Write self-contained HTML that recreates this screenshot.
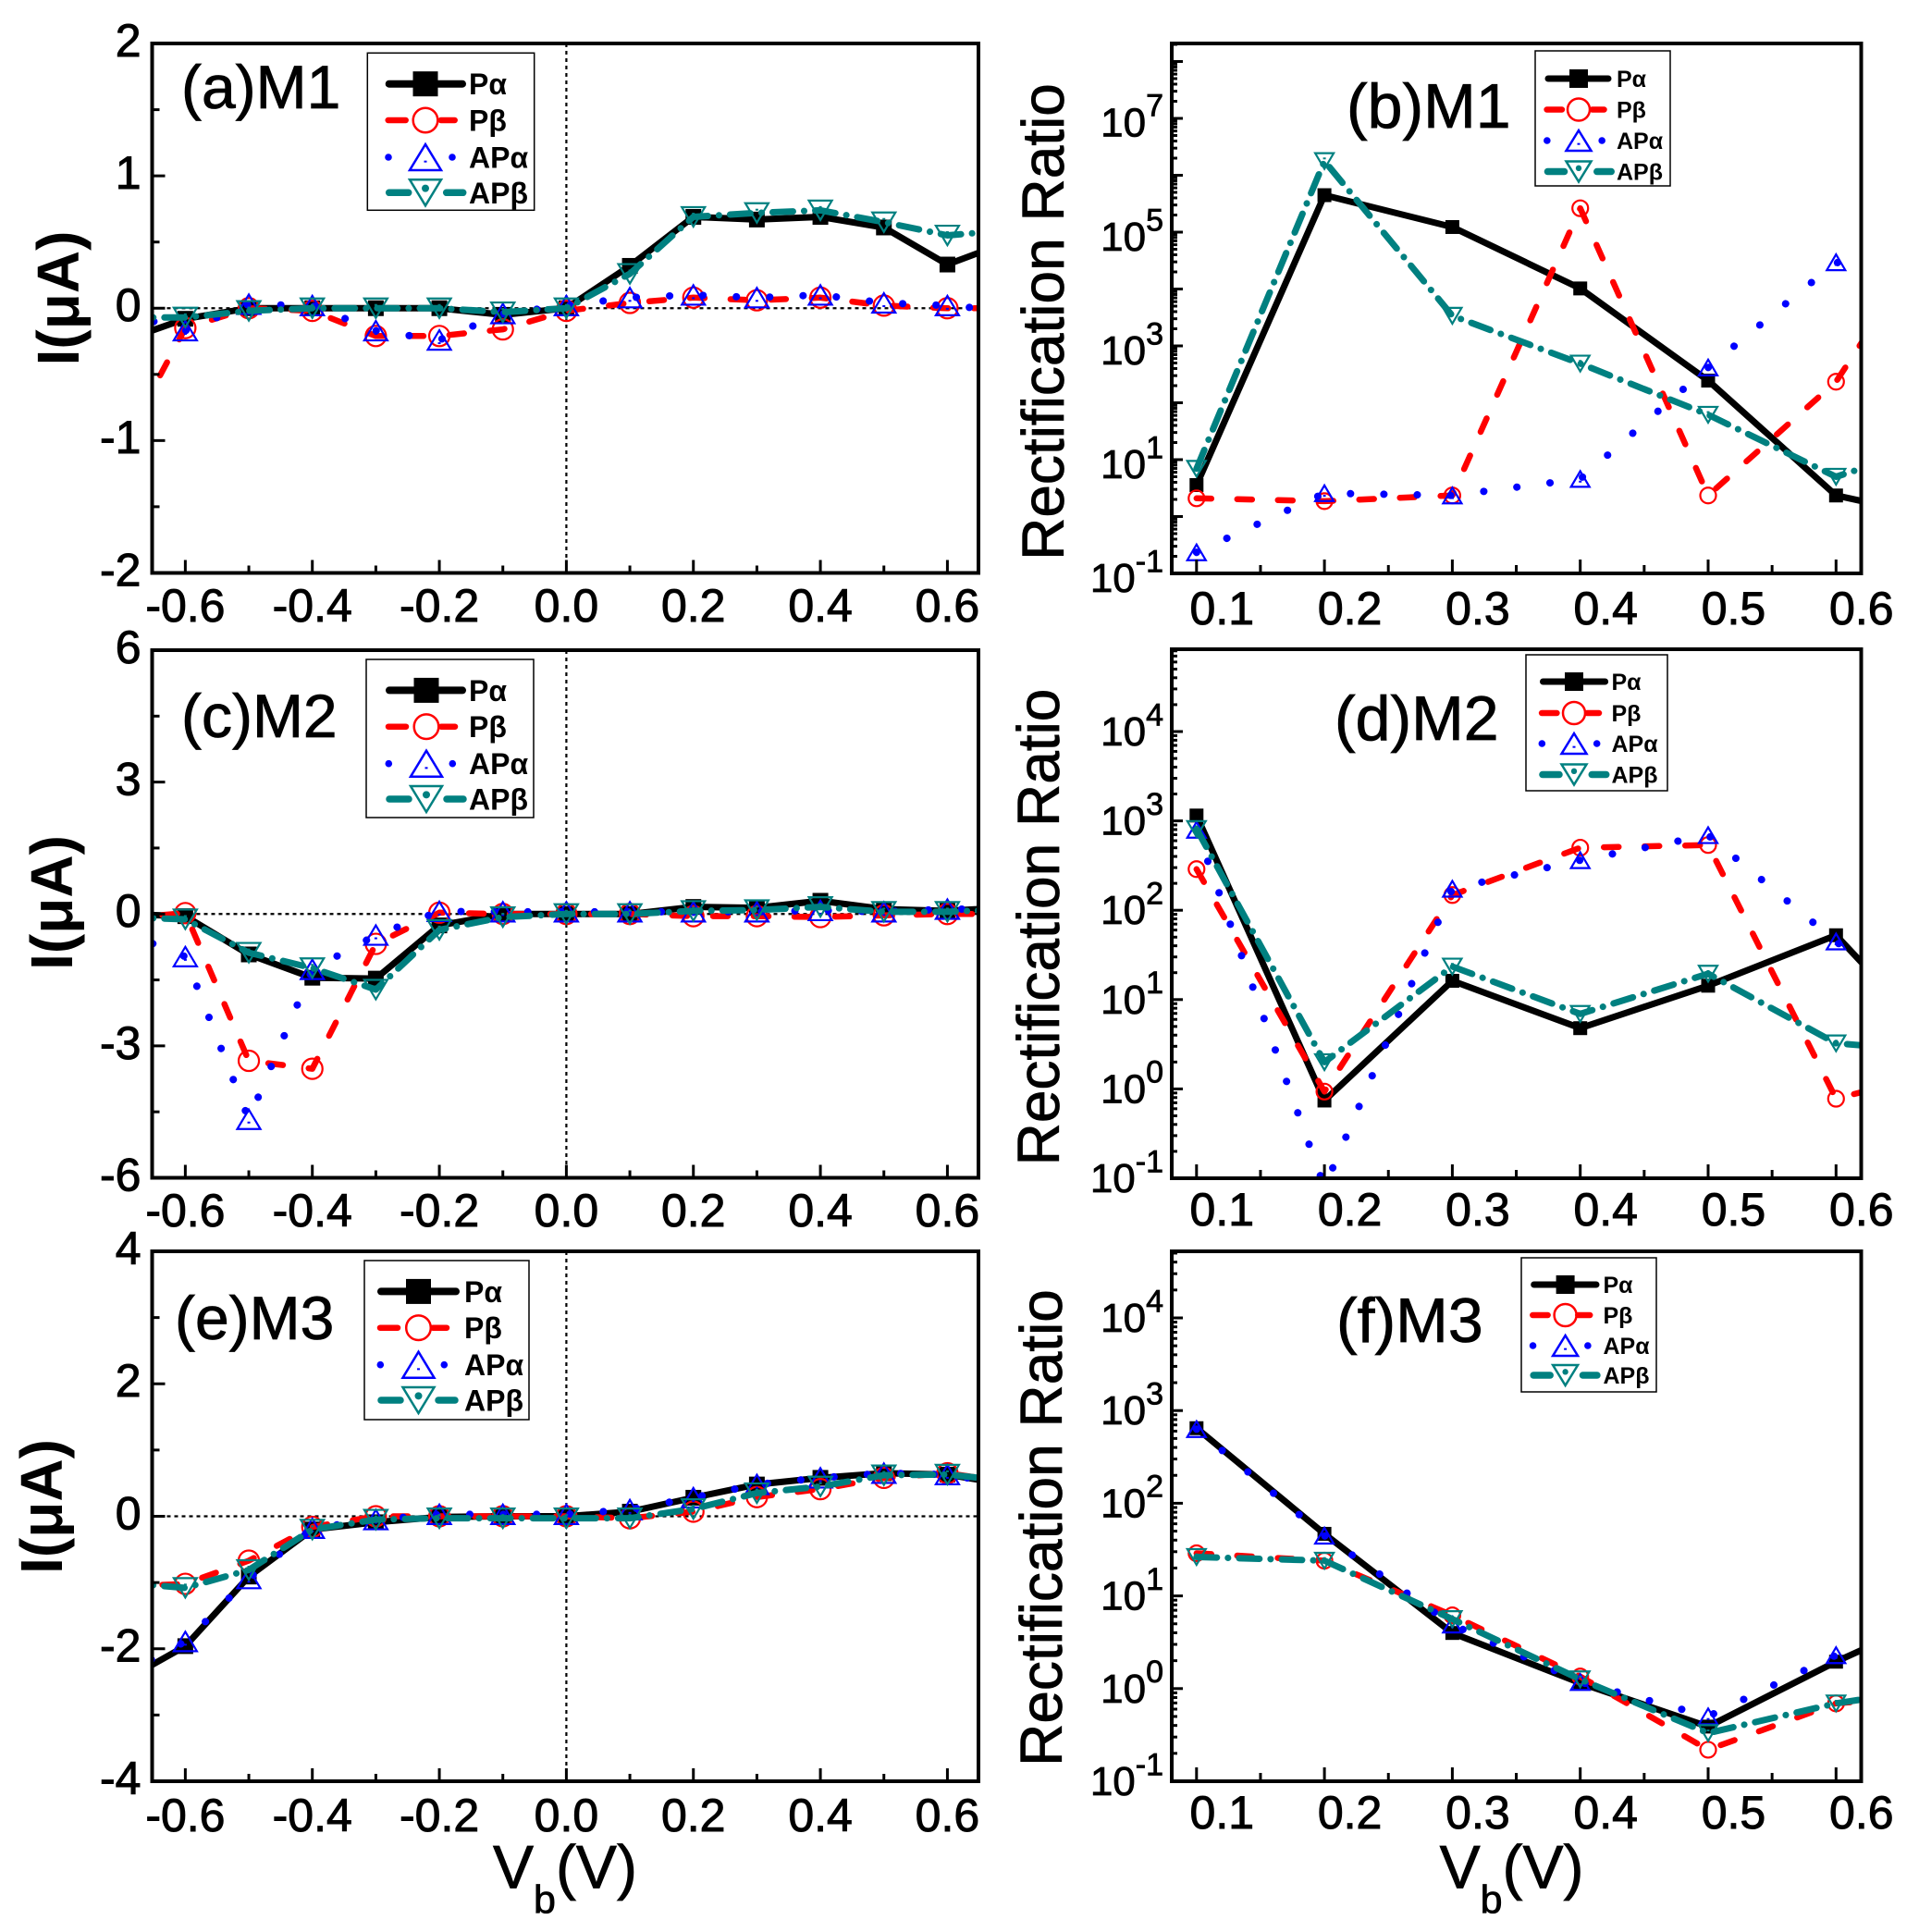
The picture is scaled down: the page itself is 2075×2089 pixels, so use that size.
<!DOCTYPE html>
<html><head><meta charset="utf-8">
<style>
html,body{margin:0;padding:0;background:#fff;}
svg{display:block;}
text{font-family:"Liberation Sans",Arial,sans-serif;fill:#000;}
.tk{font-size:50px;text-anchor:middle;stroke:#000;stroke-width:1px;}
.yl{font-size:50px;text-anchor:end;stroke:#000;stroke-width:1px;}
.lg{font-size:44px;text-anchor:end;stroke:#000;stroke-width:0.8px;}
.pl{font-size:66px;stroke:#000;stroke-width:0.8px;}
.plr{font-size:68px;stroke:#000;stroke-width:0.8px;}
.yt{font-size:64px;font-weight:bold;text-anchor:middle;}
.rr{font-size:64px;text-anchor:middle;stroke:#000;stroke-width:0.8px;}
.xt{font-size:66px;stroke:#000;stroke-width:0.8px;}
.le{font-size:32px;font-weight:bold;}
.ler{font-size:25px;font-weight:bold;}
</style></head>
<body>
<svg id="s" xmlns="http://www.w3.org/2000/svg" width="2075" height="2089" viewBox="0 0 2075 2089">
<rect width="2075" height="2089" fill="#fff"/>
<defs id="defs"></defs>
<g id="plots"></g>

<!-- left x tick labels -->
<text class="tk" x="200.4" y="672">-0.6</text><text class="tk" x="337.7" y="672">-0.4</text><text class="tk" x="475.1" y="672">-0.2</text><text class="tk" x="612.4" y="672">0.0</text><text class="tk" x="749.7" y="672">0.2</text><text class="tk" x="887.1" y="672">0.4</text><text class="tk" x="1024.4" y="672">0.6</text>
<text class="tk" x="200.4" y="1326">-0.6</text><text class="tk" x="337.7" y="1326">-0.4</text><text class="tk" x="475.1" y="1326">-0.2</text><text class="tk" x="612.4" y="1326">0.0</text><text class="tk" x="749.7" y="1326">0.2</text><text class="tk" x="887.1" y="1326">0.4</text><text class="tk" x="1024.4" y="1326">0.6</text>
<text class="tk" x="200.4" y="1980">-0.6</text><text class="tk" x="337.7" y="1980">-0.4</text><text class="tk" x="475.1" y="1980">-0.2</text><text class="tk" x="612.4" y="1980">0.0</text><text class="tk" x="749.7" y="1980">0.2</text><text class="tk" x="887.1" y="1980">0.4</text><text class="tk" x="1024.4" y="1980">0.6</text>

<!-- right x tick labels -->
<text class="tk" x="1321.3" y="675">0.1</text><text class="tk" x="1459.6" y="675">0.2</text><text class="tk" x="1597.9" y="675">0.3</text><text class="tk" x="1736.2" y="675">0.4</text><text class="tk" x="1874.5" y="675">0.5</text><text class="tk" x="2012.8" y="675">0.6</text>
<text class="tk" x="1321.3" y="1325">0.1</text><text class="tk" x="1459.6" y="1325">0.2</text><text class="tk" x="1597.9" y="1325">0.3</text><text class="tk" x="1736.2" y="1325">0.4</text><text class="tk" x="1874.5" y="1325">0.5</text><text class="tk" x="2012.8" y="1325">0.6</text>
<text class="tk" x="1321.3" y="1977">0.1</text><text class="tk" x="1459.6" y="1977">0.2</text><text class="tk" x="1597.9" y="1977">0.3</text><text class="tk" x="1736.2" y="1977">0.4</text><text class="tk" x="1874.5" y="1977">0.5</text><text class="tk" x="2012.8" y="1977">0.6</text>

<!-- left y tick labels -->
<text class="yl" x="152.5" y="61">2</text><text class="yl" x="152.5" y="204">1</text><text class="yl" x="152.5" y="347">0</text><text class="yl" x="152.5" y="490">-1</text><text class="yl" x="152.5" y="633.5">-2</text>
<text class="yl" x="152.5" y="717">6</text><text class="yl" x="152.5" y="859.6">3</text><text class="yl" x="152.5" y="1002">0</text><text class="yl" x="152.5" y="1145">-3</text><text class="yl" x="152.5" y="1287.5">-6</text>
<text class="yl" x="152.5" y="1367">4</text><text class="yl" x="152.5" y="1510">2</text><text class="yl" x="152.5" y="1653.5">0</text><text class="yl" x="152.5" y="1796.7">-2</text><text class="yl" x="152.5" y="1940">-4</text>

<!-- right y tick labels (log) -->
<text class="lg" x="1258" y="147.3">10<tspan font-size="34" dy="-21.7">7</tspan></text>
<text class="lg" x="1258" y="271">10<tspan font-size="34" dy="-21.7">5</tspan></text>
<text class="lg" x="1258" y="394">10<tspan font-size="34" dy="-21.7">3</tspan></text>
<text class="lg" x="1258" y="517">10<tspan font-size="34" dy="-21.7">1</tspan></text>
<text class="lg" x="1258" y="640">10<tspan font-size="34" dy="-21.7">-1</tspan></text>

<text class="lg" x="1258" y="806">10<tspan font-size="34" dy="-21.7">4</tspan></text>
<text class="lg" x="1258" y="902.6">10<tspan font-size="34" dy="-21.7">3</tspan></text>
<text class="lg" x="1258" y="999.2">10<tspan font-size="34" dy="-21.7">2</tspan></text>
<text class="lg" x="1258" y="1095.8">10<tspan font-size="34" dy="-21.7">1</tspan></text>
<text class="lg" x="1258" y="1192.4">10<tspan font-size="34" dy="-21.7">0</tspan></text>
<text class="lg" x="1258" y="1289">10<tspan font-size="34" dy="-21.7">-1</tspan></text>

<text class="lg" x="1258" y="1440">10<tspan font-size="34" dy="-21.7">4</tspan></text>
<text class="lg" x="1258" y="1540.2">10<tspan font-size="34" dy="-21.7">3</tspan></text>
<text class="lg" x="1258" y="1640.4">10<tspan font-size="34" dy="-21.7">2</tspan></text>
<text class="lg" x="1258" y="1740.6">10<tspan font-size="34" dy="-21.7">1</tspan></text>
<text class="lg" x="1258" y="1840.8">10<tspan font-size="34" dy="-21.7">0</tspan></text>
<text class="lg" x="1258" y="1941">10<tspan font-size="34" dy="-21.7">-1</tspan></text>

<!-- panel labels -->
<text class="pl" x="196" y="117">(a)M1</text>
<text class="pl" x="196" y="797">(c)M2</text>
<text class="pl" x="189" y="1448">(e)M3</text>
<text class="plr" x="1456" y="138">(b)M1</text>
<text class="plr" x="1443" y="800">(d)M2</text>
<text class="plr" x="1445" y="1451">(f)M3</text>

<!-- y titles -->
<text class="yt" transform="translate(85,322.5) rotate(-90)">I(μA)</text>
<text class="yt" transform="translate(78,976) rotate(-90)">I(μA)</text>
<text class="yt" transform="translate(67,1629) rotate(-90)">I(μA)</text>
<text class="rr" transform="translate(1150,348) rotate(-90)">Rectification Ratio</text>
<text class="rr" transform="translate(1145,1002.5) rotate(-90)">Rectification Ratio</text>
<text class="rr" transform="translate(1148,1652) rotate(-90)">Rectification Ratio</text>

<!-- x titles -->
<text class="xt" x="533" y="2041.5">V<tspan font-size="43" dy="27">b</tspan><tspan dy="-27">(V)</tspan></text>
<text class="xt" x="1556.6" y="2041.5">V<tspan font-size="43" dy="27">b</tspan><tspan dy="-27">(V)</tspan></text>

<!-- legend texts -->
<text class="le" x="507" y="102.2">Pα</text><text class="le" x="507" y="141.5">Pβ</text><text class="le" x="507" y="181.5">APα</text><text class="le" x="507" y="219.8">APβ</text>
<text class="le" x="507" y="757.9">Pα</text><text class="le" x="507" y="797.2">Pβ</text><text class="le" x="507" y="837.2">APα</text><text class="le" x="507" y="875.5">APβ</text>
<text class="le" x="502" y="1407.9">Pα</text><text class="le" x="502" y="1447.2">Pβ</text><text class="le" x="502" y="1487.2">APα</text><text class="le" x="502" y="1525.5">APβ</text>
<text class="ler" x="1748" y="94">Pα</text><text class="ler" x="1748" y="127.5">Pβ</text><text class="ler" x="1748" y="161">APα</text><text class="ler" x="1748" y="194.5">APβ</text>
<text class="ler" x="1742.5" y="746">Pα</text><text class="ler" x="1742.5" y="780">Pβ</text><text class="ler" x="1742.5" y="813">APα</text><text class="ler" x="1742.5" y="846.5">APβ</text>
<text class="ler" x="1733.5" y="1398">Pα</text><text class="ler" x="1733.5" y="1431">Pβ</text><text class="ler" x="1733.5" y="1464">APα</text><text class="ler" x="1733.5" y="1496">APβ</text>
</svg>
<script>
(function(){
var NS='http://www.w3.org/2000/svg';
var G=document.getElementById('plots');
var DEFS=document.getElementById('defs');
function A(tag,at,p){var e=document.createElementNS(NS,tag);for(var k in at)e.setAttribute(k,at[k]);(p||G).appendChild(e);return e;}
var Lx=function(v){return 612.4+686.7*v;};
var Rx=function(v){return 1293.8+1383*(v-0.1);};
var LV=[-0.7,-0.6,-0.5,-0.4,-0.3,-0.2,-0.1,0,0.1,0.2,0.3,0.4,0.5,0.6,0.7];
var RV=[0.1,0.2,0.3,0.4,0.5,0.6,0.7];
var COL=['#000000','#ff0000','#0000ff','#008080'];
var ST=[
 {w:7,d:null},
 {w:6.5,d:'16 28'},
 {w:8,d:'0.1 36'},
 {w:7,d:'22 12 0.1 12'}
];
function marker(k,x,y,sz,p,sw){
 sw=sw||2.2;
 if(k==0){A('rect',{x:x-sz.sq/2,y:y-sz.sq/2,width:sz.sq,height:sz.sq,fill:'#000'},p);}
 else if(k==1){A('circle',{cx:x,cy:y,r:sz.r,fill:'none',stroke:COL[1],'stroke-width':sw},p);}
 else if(k==2){
  A('polygon',{points:[x,y-sz.th/2,x+sz.tw/2,y+sz.th/2,x-sz.tw/2,y+sz.th/2].join(' '),fill:'none',stroke:COL[2],'stroke-width':sw},p);
  A('rect',{x:x-1.5,y:y+sz.th/6-1,width:3,height:2,fill:COL[2]},p);
 } else {
  A('polygon',{points:[x-sz.tw/2,y-sz.th/2,x+sz.tw/2,y-sz.th/2,x,y+sz.th/2].join(' '),fill:'none',stroke:COL[3],'stroke-width':sw},p);
  A('rect',{x:x-1.5,y:y-sz.th/6-1,width:3,height:2,fill:COL[3]},p);
 }
}
var SL={sq:17,r:11,tw:25,th:21}, SR={sq:15,r:8.5,tw:20,th:17};
var P=[
{left:1,x0:164.5,x1:1058,y0:47,y1:619.5,X:Lx,V:LV,Y:function(v){return 333.25-143.1*v;},ym:[-2,-1,0,1,2],yn:[-1.5,-0.5,0.5,1.5],
 D:[[-0.25,-0.08,0,0,0,0,-0.05,0,0.32,0.69,0.67,0.69,0.61,0.33,0.51],
    [-1.05,-0.15,0,-0.02,-0.21,-0.21,-0.16,-0.02,0.04,0.08,0.06,0.08,0.02,0,0],
    [-0.03,-0.17,0.03,0.02,-0.17,-0.24,-0.04,0.02,0.08,0.1,0.08,0.1,0.04,0.02,-0.02],
    [-0.07,-0.07,-0.02,0,0,0,-0.03,0,0.26,0.69,0.72,0.74,0.65,0.55,0.59]]},
{left:1,x0:164.5,x1:1058,y0:703,y1:1273.5,X:Lx,V:LV,Y:function(v){return 988.25-47.54*v;},ym:[-6,-3,0,3,6],yn:[-4.5,-1.5,1.5,4.5],
 D:[[0,-0.05,-0.92,-1.45,-1.47,-0.26,0,0,0,0.16,0.14,0.3,0.11,0.07,0.15],
    [-0.1,0.02,-3.34,-3.52,-0.68,0.03,0,0,0,-0.05,-0.05,-0.07,-0.03,0,0],
    [-0.39,-0.97,-4.67,-1.26,-0.48,0.06,0.05,0.05,0.05,0.05,0.05,0.08,0.05,0.11,0.11],
    [-0.07,-0.12,-0.88,-1.23,-1.72,-0.36,-0.07,0,0,0.07,0.09,0.16,0.05,0.05,0.11]]},
{left:1,x0:164.5,x1:1058,y0:1353,y1:1926,X:Lx,V:LV,Y:function(v){return 1639.5-71.625*v;},ym:[-4,-2,0,2,4],yn:[-3,-1,1,3],
 D:[[-2.5,-1.96,-0.91,-0.2,-0.09,-0.01,0,0,0.07,0.28,0.48,0.58,0.65,0.63,0.47],
    [-1.06,-1.02,-0.67,-0.16,0,0,0,0,-0.03,0.07,0.29,0.41,0.58,0.65,0.51],
    [-2.4,-1.89,-0.94,-0.18,-0.05,0.03,0.03,0.03,0.1,0.28,0.48,0.58,0.65,0.63,0.47],
    [-1.0,-1.08,-0.81,-0.2,-0.05,-0.03,-0.03,-0.03,-0.03,0.11,0.35,0.45,0.62,0.63,0.53]]},
{left:0,x0:1267,x1:2012.5,y0:47,y1:620,X:Rx,V:RV,lo:-1,hi:8.32,Y:function(L){return 620-61.5*(L+1);},
 D:[[0.553,5.65,5.09,4.01,2.39,0.37,-0.12],
    [0.32,0.27,0.37,5.42,0.37,2.37,5.8],
    [-0.63,0.41,0.37,0.66,2.62,4.47,4.0],
    [0.84,6.25,3.53,2.69,1.79,0.70,1.43]]},
{left:0,x0:1267,x1:2012.5,y0:702,y1:1274,X:Rx,V:RV,lo:-1,hi:4.92,Y:function(L){return 1274-96.6*(L+1);},
 D:[[3.06,-0.13,1.21,0.68,1.155,1.72,0.19],
    [2.46,-0.03,2.17,2.70,2.73,-0.11,0.26],
    [2.9,-1.1,2.24,2.56,2.84,1.65,0.5],
    [2.91,0.3,1.37,0.84,1.29,0.51,0.4]]},
{left:0,x0:1267,x1:2012.5,y0:1353,y1:1926,X:Rx,V:RV,lo:-1,hi:4.72,Y:function(L){return 1926-100.2*(L+1);},
 D:[[2.81,1.67,0.60,0.06,-0.41,0.29,0.92],
    [1.46,1.38,0.79,0.13,-0.66,-0.16,-0.05],
    [2.80,1.65,0.69,0.07,-0.30,0.36,0.62],
    [1.42,1.38,0.75,0.10,-0.48,-0.16,0.05]]}
];
function tick(x1,y1,x2,y2){A('line',{x1:x1,y1:y1,x2:x2,y2:y2,stroke:'#000','stroke-width':3});}
P.forEach(function(p,i){
 var cp=A('clipPath',{id:'cp'+i},DEFS);
 A('rect',{x:p.x0,y:p.y0,width:p.x1-p.x0,height:p.y1-p.y0},cp);
 var g=A('g',{'clip-path':'url(#cp'+i+')'});
 if(p.left){
  var yz=p.Y(0),xz=p.X(0);
  A('line',{x1:p.x0,y1:yz,x2:p.x1,y2:yz,stroke:'#000','stroke-width':2.2,'stroke-dasharray':'4 4'},g);
  A('line',{x1:xz,y1:p.y0,x2:xz,y2:p.y1,stroke:'#000','stroke-width':2.2,'stroke-dasharray':'4 4'},g);
 }
 var sz=p.left?SL:SR;
 for(var k=0;k<4;k++){
  var pts=[];
  for(var j=0;j<p.V.length;j++){pts.push(p.X(p.V[j]).toFixed(1)+','+p.Y(p.D[k][j]).toFixed(1));}
  var at={points:pts.join(' '),fill:'none',stroke:COL[k],'stroke-width':ST[k].w,'stroke-linejoin':'round','stroke-linecap':'round'};
  if(ST[k].d)at['stroke-dasharray']=ST[k].d;
  A('polyline',at,g);
  for(var j=0;j<p.V.length;j++){marker(k,p.X(p.V[j]),p.Y(p.D[k][j]),sz,g);}
 }
 // ticks
 if(p.left){
  for(var j=-6;j<=6;j++){var x=p.X(j/10);var len=(j%2==0)?14:8;tick(x,p.y1,x,p.y1-len);}
  p.ym.forEach(function(v){var y=p.Y(v);tick(p.x0,y,p.x0+14,y);});
  p.yn.forEach(function(v){var y=p.Y(v);tick(p.x0,y,p.x0+8,y);});
 } else {
  [0.1,0.2,0.3,0.4,0.5,0.6].forEach(function(v){var x=p.X(v);tick(x,p.y1,x,p.y1-15);});
  [0.15,0.25,0.35,0.45,0.55].forEach(function(v){var x=p.X(v);tick(x,p.y1,x,p.y1-9);});
  for(var d=-1;d<=Math.ceil(p.hi);d++){
   if(d<=p.hi){var y=p.Y(d);tick(p.x0,y,p.x0+12,y);}
   for(var m=2;m<=9;m++){var L=d+Math.log10(m);if(L<p.hi&&L>p.lo){var y2=p.Y(L);tick(p.x0,y2,p.x0+6,y2);}}
  }
 }
 A('rect',{x:p.x0,y:p.y0,width:p.x1-p.x0,height:p.y1-p.y0,fill:'none',stroke:'#000','stroke-width':4});
});
function seg(x1,x2,y,c,w){A('line',{x1:x1,y1:y,x2:x2,y2:y,stroke:c,'stroke-width':w,'stroke-linecap':'round'});}
function dot(x,y,r,c){A('circle',{cx:x,cy:y,r:r,fill:c});}
function legend(bx,by,bw,bh,rows,L1,L2,M,big){
 var s=big?1:0.86;
 A('rect',{x:bx,y:by,width:bw,height:bh,fill:'#fff',stroke:'#000','stroke-width':1.5});
 var ms=big?{sq:27,r:13.3,tw:34,th:28}:{sq:20,r:12,tw:27,th:22};
 seg(L1+4,L2-4,rows[0],'#000',big?8:7);
 marker(0,M,rows[0],ms,G,2.5);
 seg(L1+3*s,L1+22*s,rows[1],COL[1],6.5);
 seg(L1+60*s,L1+75*s,rows[1],COL[1],6.5);
 marker(1,M,rows[1],ms,G,2.5);
 dot(L1+3.3*s,rows[2],3.8,COL[2]);
 dot(L1+72.3*s,rows[2],3.8,COL[2]);
 marker(2,M,rows[2],ms,G,2.5);
 seg(L1+4*s,L1+25*s,rows[3],COL[3],7.5);
 seg(L1+66*s,L1+84*s,rows[3],COL[3],7.5);
 marker(3,M,rows[3],ms,G,2.5);
 dot(M,rows[3]-ms.th/6,big?4:3.2,COL[3]);
}
legend(397.3,57.3,180.4,170,[90.7,130,170,208.3],416.7,504,460,1);
legend(396,713,181,171,[746.4,785.7,825.7,864],417,504,461,1);
legend(394,1363,178,172,[1396.4,1435.7,1475.7,1514],408,497,452.5,1);
legend(1660,55,146,146,[85,118.5,152,185.5],1670,1743,1707,0);
legend(1650,708,153,147,[737,771,804,837.5],1664.5,1739.6,1702,0);
legend(1645,1360,146,145,[1389,1422,1455,1487],1654.7,1730,1692.6,0);
})();
</script>
</body></html>
